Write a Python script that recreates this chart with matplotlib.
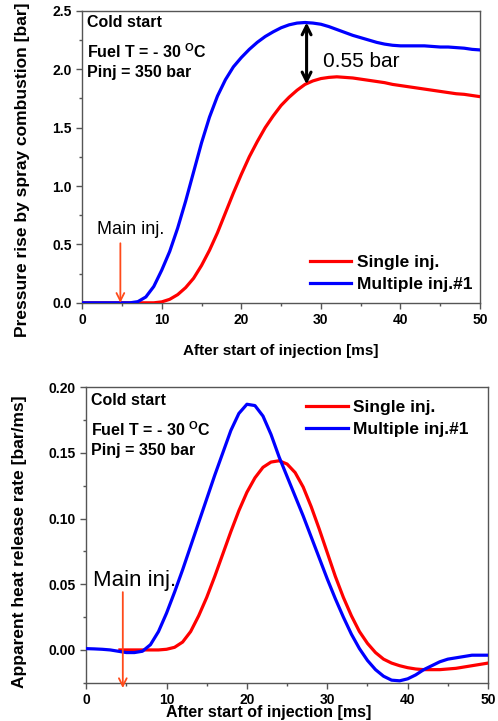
import matplotlib
matplotlib.use("Agg")
import matplotlib.pyplot as plt
from matplotlib.ticker import MultipleLocator, FormatStrFormatter

plt.rcParams["font.family"] = ["Liberation Sans", "DejaVu Sans"]
plt.rcParams["font.weight"] = "bold"
plt.rcParams["mathtext.default"] = "regular"

# time after start of injection [ms]
time_ms = list(range(0, 51))

# pressure rise by spray combustion [bar]
pressure_single = [
    0.0, 0.0, 0.0, 0.0, 0.0, 0.0, 0.0, 0.0, 0.0, 0.0,
    0.008, 0.03, 0.07, 0.13, 0.21, 0.32, 0.45, 0.60, 0.77, 0.94,
    1.10, 1.25, 1.38, 1.50, 1.60, 1.69, 1.76, 1.82, 1.87, 1.90,
    1.92, 1.93, 1.935, 1.93, 1.925, 1.915, 1.905, 1.895, 1.885, 1.87,
    1.86, 1.85, 1.84, 1.83, 1.82, 1.81, 1.80, 1.79, 1.785, 1.775,
    1.765,
]
pressure_multi = [
    0.0, 0.0, 0.0, 0.0, 0.0, 0.0, 0.0, 0.01, 0.05, 0.14,
    0.28, 0.44, 0.64, 0.87, 1.12, 1.37, 1.59, 1.77, 1.91, 2.02,
    2.10, 2.17, 2.23, 2.28, 2.32, 2.355, 2.38, 2.395, 2.40, 2.395,
    2.385, 2.365, 2.34, 2.315, 2.29, 2.27, 2.25, 2.23, 2.215, 2.205,
    2.20, 2.20, 2.20, 2.20, 2.195, 2.19, 2.19, 2.185, 2.18, 2.17,
    2.165,
]

# apparent heat release rate [bar/ms]
hrr_time_single = [4.2] + list(range(5, 51))
hrr_single = [
    0.0,
    0.0, 0.0, 0.0, 0.0, 0.0, 0.0005, 0.002, 0.006, 0.014,
    0.026, 0.040, 0.056, 0.073, 0.090, 0.106, 0.120, 0.131, 0.139, 0.143,
    0.144, 0.1415, 0.135, 0.124, 0.109, 0.092, 0.074, 0.056, 0.040, 0.026,
    0.014, 0.005, -0.002, -0.007, -0.010, -0.012, -0.0135, -0.0145, -0.015, -0.015,
    -0.015, -0.0145, -0.014, -0.013, -0.012, -0.011, -0.010,
]
hrr_multi = [
    0.001, 0.0008, 0.0005, 0.0, -0.001, -0.002, -0.002, -0.001, 0.004, 0.014,
    0.028, 0.044, 0.061, 0.079, 0.097, 0.115, 0.133, 0.150, 0.167, 0.180,
    0.187, 0.186, 0.178, 0.164, 0.147, 0.132, 0.117, 0.102, 0.086, 0.070,
    0.054, 0.039, 0.025, 0.012, 0.001, -0.008, -0.015, -0.020, -0.023, -0.0235,
    -0.022, -0.019, -0.015, -0.012, -0.009, -0.007, -0.006, -0.005, -0.004, -0.004,
    -0.004,
]

main_inj_top = 4.8
main_inj_bottom = 4.56
peak_gap = (28.2, 2.40, 1.87)

RED = "#ff0000"
BLUE = "#0000ff"
ORANGE = "#ff4a1a"
SPINE = "#555555"
NARROW = ["Liberation Sans Narrow", "Liberation Sans"]


def style_axis(ax, ymajor, yminor, yfmt):
    ax.set_xlim(0, 50)
    ax.xaxis.set_major_locator(MultipleLocator(10))
    ax.xaxis.set_minor_locator(MultipleLocator(5))
    ax.yaxis.set_major_locator(MultipleLocator(ymajor))
    ax.yaxis.set_minor_locator(MultipleLocator(yminor))
    ax.yaxis.set_major_formatter(FormatStrFormatter(yfmt))
    ax.tick_params(which="major", direction="out", length=4, width=1, color=SPINE,
                   labelsize=10, top=False, right=False)
    ax.tick_params(which="minor", direction="out", length=2.5, width=1, color=SPINE,
                   top=False, right=False)
    for lab in ax.get_xticklabels() + ax.get_yticklabels():
        lab.set_fontweight("bold")
    for sp in ax.spines.values():
        sp.set_color(SPINE)
        sp.set_linewidth(1.0)


def conditions(ax, ys):
    ax.text(0.013, ys[0], "Cold start", transform=ax.transAxes, fontsize=11.5,
            fontweight="bold", va="center")
    ax.text(0.013, ys[1], r"Fuel T = - 30 $^{O}$C", transform=ax.transAxes,
            fontsize=11.5, fontweight="bold", va="center")
    ax.text(0.013, ys[2], "Pinj = 350 bar", transform=ax.transAxes, fontsize=11.5,
            fontweight="bold", va="center")


fig = plt.figure(figsize=(4.98, 7.21), dpi=100)
ax1 = fig.add_axes([0.165, 0.580, 0.799, 0.405])
ax2 = fig.add_axes([0.173, 0.053, 0.807, 0.410])

# top: pressure rise
ax1.plot(time_ms, pressure_single, color=RED, lw=2.3, label="Single inj.", zorder=3)
ax1.plot(time_ms, pressure_multi, color=BLUE, lw=2.3, label="Multiple inj.#1", zorder=3)
ax1.set_ylim(0, 2.5)
style_axis(ax1, 0.5, 0.25, "%.1f")
ax1.set_xlabel("After start of injection [ms]", fontsize=11, fontweight="bold", labelpad=12)
ax1.set_ylabel("Pressure rise by spray combustion [bar]", fontsize=12.5, fontweight="bold")
ax1.yaxis.set_label_coords(-0.131, 0.455)
conditions(ax1, (0.959, 0.860, 0.788))
ax1.legend(loc="upper left", bbox_to_anchor=(0.572, 0.165), frameon=False,
           handlelength=2.4, handletextpad=0.3, labelspacing=0.4,
           borderpad=0, borderaxespad=0, prop={"weight": "bold", "size": 12.5})
ax1.annotate("", xy=(peak_gap[0], peak_gap[2]), xytext=(peak_gap[0], peak_gap[1]),
             arrowprops=dict(arrowstyle="<->", color="black", lw=2.2,
                             mutation_scale=16, shrinkA=0, shrinkB=0), zorder=4)
ax1.text(30.2, 2.07, "0.55 bar", fontsize=15, fontweight="normal", family=NARROW,
         va="center")
ax1.annotate("", xy=(main_inj_top, 0.0), xytext=(main_inj_top, 0.51),
             arrowprops=dict(arrowstyle="->", color=ORANGE, lw=1.3,
                             mutation_scale=14, shrinkA=0, shrinkB=0), zorder=4)
ax1.text(1.9, 0.63, "Main inj.", fontsize=13, fontweight="normal", family=NARROW,
         va="center")

# bottom: apparent heat release rate
ax2.plot(hrr_time_single, hrr_single, color=RED, lw=2.3, label="Single inj.", zorder=3)
ax2.plot(time_ms, hrr_multi, color=BLUE, lw=2.3, label="Multiple inj.#1", zorder=3)
ax2.set_ylim(-0.025, 0.20)
style_axis(ax2, 0.05, 0.025, "%.2f")
ax2.set_xlabel("After start of injection [ms]", fontsize=11.5, fontweight="bold")
ax2.xaxis.set_label_coords(0.455, -0.075)
ax2.set_ylabel("Apparent heat release rate [bar/ms]", fontsize=12.5, fontweight="bold")
ax2.yaxis.set_label_coords(-0.147, 0.478)
conditions(ax2, (0.956, 0.857, 0.785))
ax2.legend(loc="upper left", bbox_to_anchor=(0.548, 0.958), frameon=False,
           handlelength=2.4, handletextpad=0.3, labelspacing=0.4,
           borderpad=0, borderaxespad=0, prop={"weight": "bold", "size": 12.5})
ax2.annotate("", xy=(main_inj_bottom, -0.029), xytext=(main_inj_bottom, 0.044),
             arrowprops=dict(arrowstyle="->", color=ORANGE, lw=1.3,
                             mutation_scale=14, shrinkA=0, shrinkB=0),
             annotation_clip=False, zorder=4)
ax2.text(0.9, 0.053, "Main inj.", fontsize=16, fontweight="normal", family=NARROW,
         va="center")

fig.savefig("out.png", dpi=100)
